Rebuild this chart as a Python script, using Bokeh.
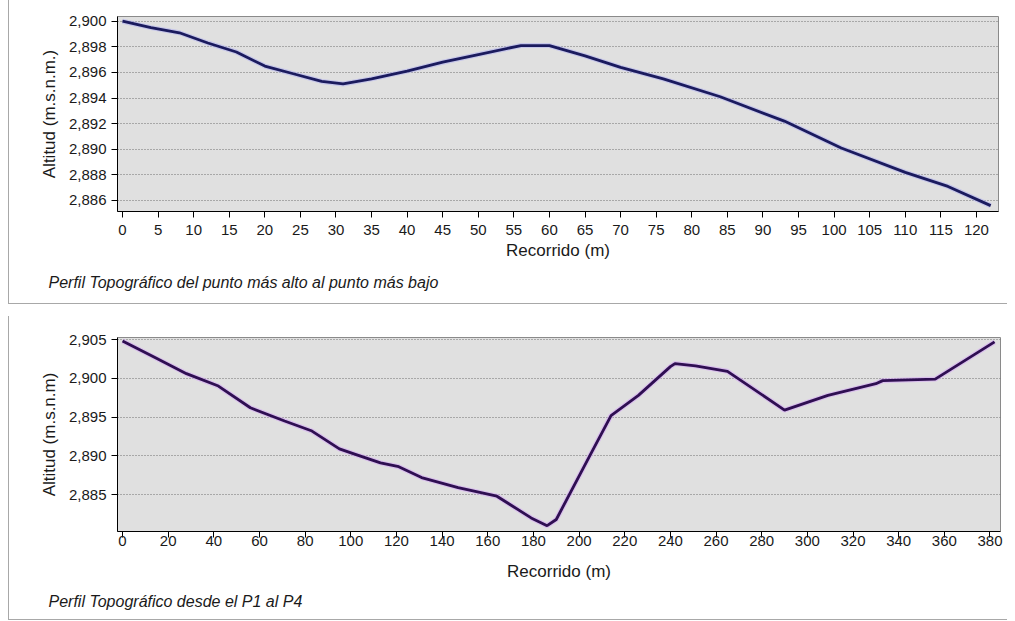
from bokeh.plotting import figure
from bokeh.layouts import column
from bokeh.models import FixedTicker, NumeralTickFormatter, Range1d, Title
from bokeh.embed import file_html
from bokeh.resources import INLINE

# ---- data: top profile (highest point to lowest point) ----
top_dist = [0, 4, 8, 12, 16, 20, 24, 28, 31, 35, 40, 45, 50, 56, 60, 65, 70, 76,
            84, 93, 101, 110, 116, 122]
top_alt = [2900.0, 2899.5, 2899.1, 2898.3, 2897.6, 2896.5, 2895.9, 2895.3, 2895.1,
           2895.5, 2896.1, 2896.8, 2897.4, 2898.1, 2898.1, 2897.3, 2896.4, 2895.5,
           2894.1, 2892.2, 2890.1, 2888.2, 2887.1, 2885.6]
top_xticks = list(range(0, 121, 5))
top_yticks = [2886, 2888, 2890, 2892, 2894, 2896, 2898, 2900]
top_caption = "Perfil Topográfico del punto más alto al punto más bajo"
top_ylabel = "Altitud (m.s.n.m.)"

# ---- data: bottom profile (P1 to P4) ----
bot_dist = [0, 14, 28, 42, 56, 71, 83, 95, 102, 113, 121, 131, 147, 164, 179, 186,
            190, 205, 214, 226, 240, 242, 251, 265, 290, 309, 330, 333, 356, 382]
bot_alt = [2904.8, 2902.7, 2900.6, 2899.0, 2896.2, 2894.5, 2893.2, 2890.9, 2890.2,
           2889.1, 2888.6, 2887.2, 2885.9, 2884.8, 2882.0, 2881.0, 2881.8, 2890.2,
           2895.2, 2897.8, 2901.5, 2901.9, 2901.6, 2900.9, 2895.9, 2897.8, 2899.3,
           2899.7, 2899.9, 2904.7]
bot_xticks = list(range(0, 381, 20))
bot_yticks = [2885, 2890, 2895, 2900, 2905]
bot_caption = "Perfil Topográfico desde el P1 al P4"
bot_ylabel = "Altitud (m.s.n.m)"

x_label = "Recorrido (m)"
FONT = "Liberation Sans"


def make_panel(xs, ys, xr, yr, xticks, yticks, ylabel, caption, line_color, halo_color,
               frame_w, frame_h, top_b, bottom_b, right_b,
               xl_standoff, xa_standoff, cap_pad):
    p = figure(frame_width=frame_w, frame_height=frame_h,
               x_range=Range1d(*xr), y_range=Range1d(*yr),
               output_backend="svg", toolbar_location=None,
               min_border_left=108, min_border_right=right_b,
               min_border_top=top_b, min_border_bottom=bottom_b,
               background_fill_color="#e0e0e0", border_fill_color="white",
               outline_line_color="#8a8a8a", outline_line_width=1,
               margin=(0, 0, 0, 8),
               styles={"border-left": "1px solid #a8a8a8",
                       "border-bottom": "1px solid #a8a8a8"})
    p.line(xs, ys, line_color=halo_color, line_width=5, line_alpha=0.6)
    p.line(xs, ys, line_color=line_color, line_width=2.8)

    p.xgrid.grid_line_color = None
    p.ygrid.grid_line_color = "#707070"
    p.ygrid.grid_line_dash = "1 2"
    p.ygrid.grid_line_width = 1
    p.ygrid.ticker = FixedTicker(ticks=yticks)

    p.xaxis.ticker = FixedTicker(ticks=xticks)
    p.yaxis.ticker = FixedTicker(ticks=yticks)
    p.yaxis.formatter = NumeralTickFormatter(format="0,0")
    for ax in (p.xaxis[0], p.yaxis[0]):
        ax.axis_line_color = "black"
        ax.major_tick_line_color = "black"
        ax.major_tick_out = 6
        ax.major_tick_in = 0
        ax.minor_tick_line_color = None
        ax.major_label_text_font = FONT
        ax.major_label_text_font_size = "15px"
        ax.major_label_text_color = "#1a1a1a"
        ax.axis_label_text_font = FONT
        ax.axis_label_text_font_size = "17px"
        ax.axis_label_text_font_style = "normal"
        ax.axis_label_text_color = "#1a1a1a"
    p.xaxis.axis_label = x_label
    p.yaxis.axis_label = ylabel
    p.xaxis.major_label_standoff = xl_standoff
    p.xaxis.axis_label_standoff = xa_standoff
    p.yaxis.major_label_standoff = 5
    p.yaxis.axis_label_standoff = 7

    p.add_layout(Title(text=caption, align="left", offset=-69,
                       text_font=FONT, text_font_size="16px",
                       text_font_style="italic", text_color="#1a1a1a",
                       padding=dict(left=0, right=0, top=cap_pad, bottom=0)),
                 "below")
    return p


p1 = make_panel(top_dist, top_alt, (-0.7, 123.1), (2885.14, 2900.37),
                top_xticks, top_yticks, top_ylabel, top_caption,
                "#1b1b5e", "#b4b4ee", 880, 194, 16, 93, 10, 7, 3, 4)
p2 = make_panel(bot_dist, bot_alt, (-2.2, 384.6), (2880.25, 2905.26),
                bot_xticks, bot_yticks, bot_ylabel, bot_caption,
                "#2f0f52", "#d4a8f4", 882, 193, 21, 89, 8, -2, 13, 2)

layout = column(p1, p2, spacing=12)
open("out.html", "w").write(file_html(layout, INLINE))
